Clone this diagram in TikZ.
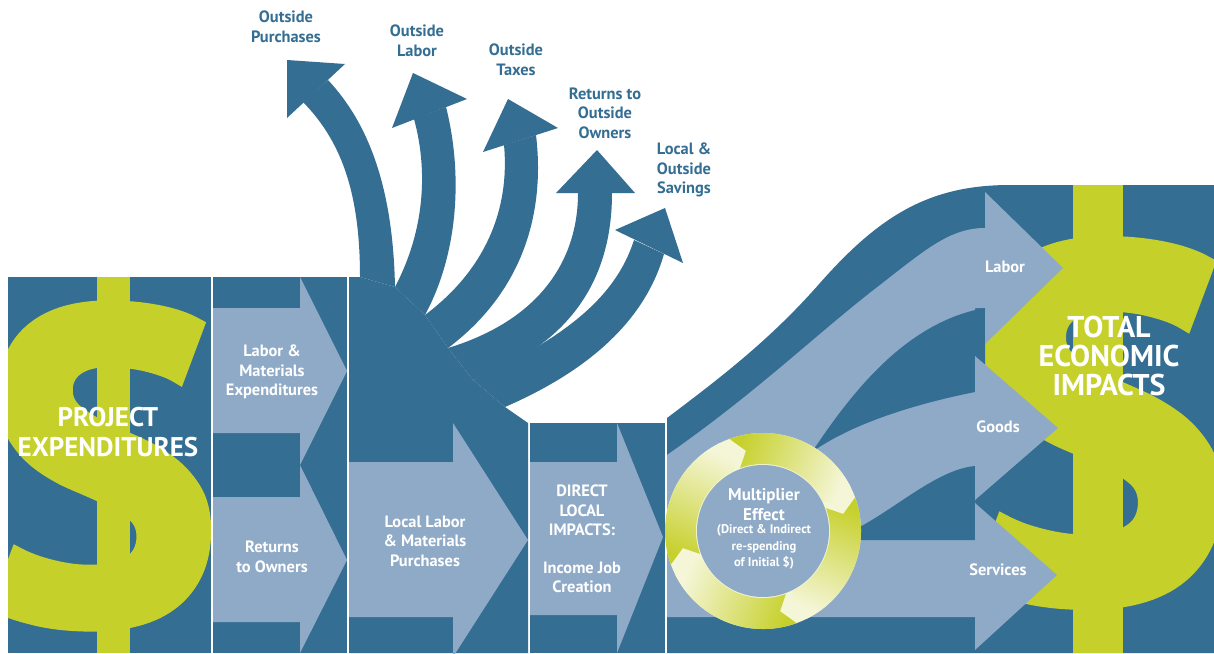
\documentclass[tikz,border=0pt]{standalone}
\usepackage{fontspec}
\setsansfont{PT Sans}
\newfontfamily\dollarfont{PT Sans}[FakeBold=3.5]
\usepackage{tikz}
\usetikzlibrary{positioning}
\definecolor{deepblue}{HTML}{356E93}
\definecolor{paleblue}{HTML}{8FAAC7}
\definecolor{lime}{HTML}{C6D02A}
\definecolor{palelime}{HTML}{F5F6D8}
\tikzset{
	panel/.style={fill=deepblue},
	flow/.style={fill=paleblue},
	ringseg/.style={top color=lime, bottom color=palelime},
	steptext/.style={text=white, align=center, font=\sffamily\bfseries\fontsize{8.2}{9.8}\selectfont},
	outlabel/.style={text=deepblue, align=center, font=\sffamily\bfseries\fontsize{8.2}{9.8}\selectfont},
	bigtext/.style={text=white, align=center, font=\sffamily\bfseries\fontsize{13.5}{15}\selectfont},
	dollar/.style={text=lime, inner sep=0pt, font=\dollarfont\bfseries\fontsize{#1}{#1}\selectfont}
}

\begin{document}
\begin{tikzpicture}[x=0.5pt, y=-0.5pt]
	\fill[white] (0,0) rectangle (1214,653);
	\useasboundingbox (0,0) rectangle (1214,653);
	
	%project expenditures
	\fill[panel] (8,277) rectangle (211,653);
	\begin{scope}
		\clip (8,277) rectangle (211,653);
		\fill[lime] (97,277) rectangle (130,653);
		\node[dollar=217] (dolA) at (102,466) {S};
	\end{scope}
	\node[bigtext] (proj) at (108,432) {PROJECT\\EXPENDITURES};
	
	%split into two flows
	\fill[panel] (213,277) rectangle (347,653);
	\fill[flow] (213,308) -- (300,308) -- (300,277) -- (347,371) -- (300,465) -- (300,433) -- (213,433) -- cycle;
	\fill[flow] (213,497) -- (300,497) -- (300,465) -- (347,560) -- (300,653) -- (300,622) -- (213,622) -- cycle;
	\node[steptext] (labmat) at (272,372) {Labor \&\\Materials\\Expenditures};
	\node[steptext] (owners) at (272,557) {Returns\\to Owners};
	
	%leakage fan
	\coordinate (g1) at (395,287);
	\coordinate (g2) at (425,315);
	\coordinate (g3) at (448,348);
	\coordinate (g4) at (473,380);
	\coordinate (g5) at (505,407);
	\fill[panel] (349,277) -- (360,277) -- (g1) -- (g2) -- (g3) -- (g4) -- (g5) -- (528,423) -- (528,653) -- (349,653) -- cycle;
	\fill[panel] (303,102) .. controls (340,140) and (360,190) .. (360,277) -- (g1) .. controls (393,190) and (370,125) .. (328,80) -- cycle;
	\fill[panel] (287,60) -- (287,118) -- (345,64) -- cycle;
	\fill[panel] (414,119) .. controls (428,170) and (425,230) .. (g1) -- (g2) .. controls (460,250) and (462,170) .. (446,107) -- cycle;
	\fill[panel] (413,73) -- (392,128) -- (467,99) -- cycle;
	\fill[panel] (504,145) .. controls (510,210) and (485,270) .. (g2) -- (g3) .. controls (525,290) and (545,210) .. (536,135) -- cycle;
	\fill[panel] (508,99) -- (483,152) -- (558,128) -- cycle;
	\fill[panel] (578,193) .. controls (578,260) and (540,320) .. (g3) -- (g4) .. controls (570,345) and (612,280) .. (612,193) -- cycle;
	\fill[panel] (597,150) -- (556,193) -- (635,193) -- cycle;
	\fill[panel] (634,240) .. controls (615,300) and (560,340) .. (g4) -- (g5) .. controls (590,370) and (645,320) .. (664,254) -- cycle;
	\fill[panel] (665,208) -- (615,230) -- (683,263) -- cycle;
	
	\node[outlabel] (outpur) at (286,27) {Outside\\Purchases};
	\node[outlabel] (outlab) at (417,41) {Outside\\Labor};
	\node[outlabel] (outtax) at (516,60) {Outside\\Taxes};
	\node[outlabel] (outret) at (605,113) {Returns to\\Outside\\Owners};
	\node[outlabel] (outsav) at (684,170) {Local \&\\Outside\\Savings};
	
	%local purchases
	\fill[flow] (349,462) -- (453,462) -- (453,423) -- (528,540) -- (453,657) -- (453,617) -- (349,617) -- cycle;
	\node[steptext] (local) at (425,541) {Local Labor\\\& Materials\\Purchases};
	
	%direct impacts
	\fill[panel] (530,423) rectangle (665,653);
	\fill[flow] (530,462) -- (617,462) -- (617,423) -- (663,537) -- (617,653) -- (617,615) -- (530,615) -- cycle;
	\node[steptext] (direct) at (582,539) {DIRECT\\LOCAL\\IMPACTS:\\[9pt]Income Job\\Creation};
	
	%total impacts
	\fill[panel] (667,653) -- (667,418) .. controls (720,378) and (770,340) .. (820,283) .. controls (880,215) and (930,185) .. (1010,185) -- (1214,185) -- (1214,653) -- cycle;
	\begin{scope}
		\clip (975,185) rectangle (1214,653);
		\fill[lime] (1073,185) rectangle (1123,653);
		\node[dollar=245] (dolE) at (1099,423) {S};
	\end{scope}
	\fill[flow] (667,455) .. controls (760,390) and (815,335) .. (880,285) .. controls (925,250) and (950,228) .. (985,228) -- (985,308) -- (975,308) -- (975,617) -- (667,617) -- cycle;
	\fill[panel] (812,452) .. controls (850,395) and (905,322) .. (985,308) -- (985,395) -- (975,392) .. controls (910,405) and (850,425) .. (812,452) -- cycle;
	\fill[panel] (830,540) .. controls (880,525) and (930,470) .. (975,466) -- (975,540) -- cycle;
	\fill[flow] (985,192) -- (1063,268) -- (985,344) -- cycle;
	\fill[flow] (975,356) -- (1058,428) -- (975,500) -- cycle;
	\fill[flow] (975,503) -- (1057,575) -- (975,650) -- cycle;
	\node[steptext] (labor) at (1005,267) {Labor};
	\node[steptext] (goods) at (998,427) {Goods};
	\node[steptext] (serv) at (998,570) {Services};
	\node[bigtext, font=\sffamily\bfseries\fontsize{15}{14.5}\selectfont] (total) at (1109,356) {TOTAL\\ECONOMIC\\IMPACTS};
	
	%multiplier ring
	\coordinate (ring) at (763,531);
	\fill[palelime] (ring) circle[radius=98];
	\foreach \a/\sa in {250/68, 340/-22, 70/-112, 160/158} {
		\shade[ringseg, shading angle=\sa] ([shift={(ring)}]\a:98) arc[start angle=\a, end angle=\a+84, radius=98] -- ([shift={(ring)}]\a+92:82) -- ([shift={(ring)}]\a+84:67) arc[start angle=\a+84, end angle=\a, radius=67] -- ([shift={(ring)}]\a+8:82) -- cycle;
	}
	\fill[flow] (ring) circle[radius=66];
	\node[steptext, font=\sffamily\bfseries\fontsize{8.5}{10}\selectfont] (mult) at (764,505) {Multiplier\\Effect};
	\node[steptext, font=\sffamily\bfseries\fontsize{6.3}{8.2}\selectfont] (multsub) at (764,547) {(Direct \& Indirect\\re-spending\\of Initial \$)};
\end{tikzpicture}
\end{document}
